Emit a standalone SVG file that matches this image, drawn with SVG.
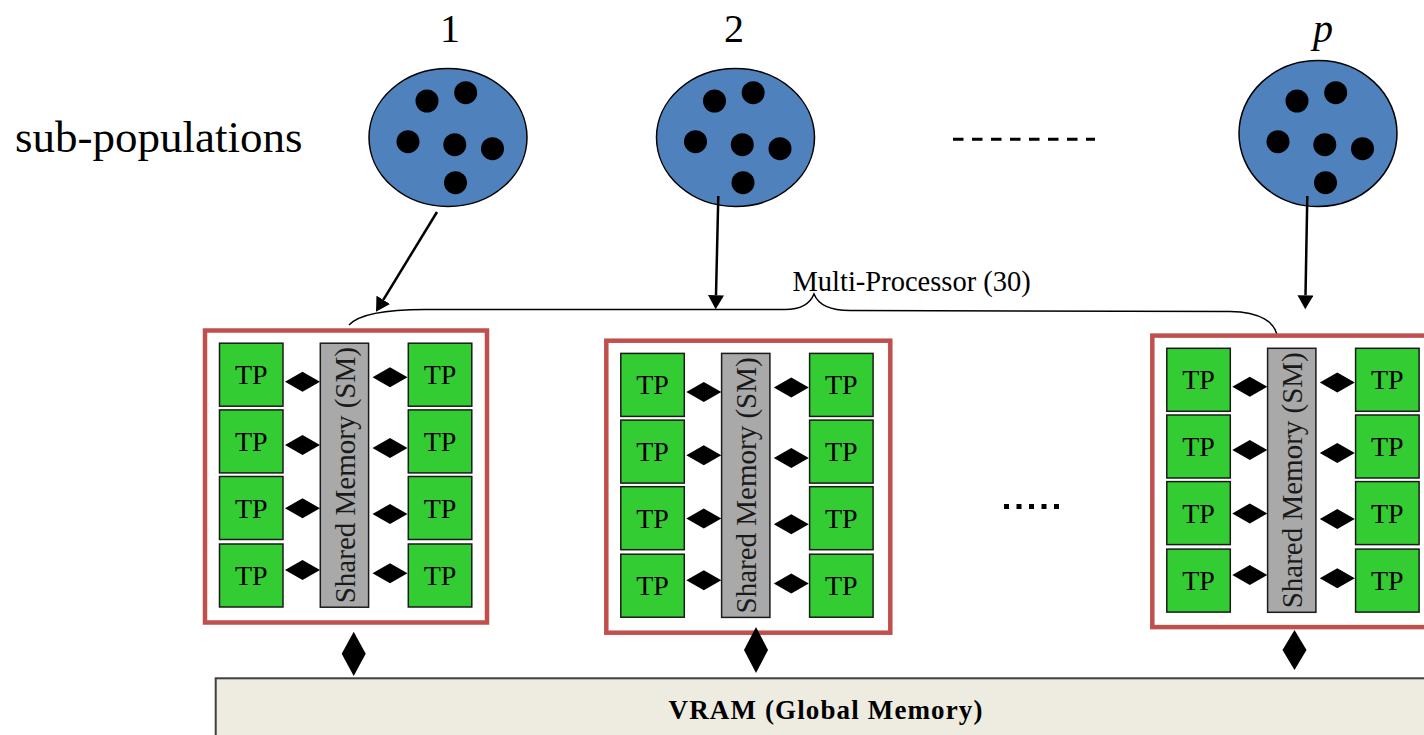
<svg xmlns="http://www.w3.org/2000/svg" width="1424" height="735" viewBox="0 0 1424 735">
<style>
.lbl{font-family:"Liberation Serif","Times New Roman",serif;fill:#000}
.pop{fill:#4F81BD;stroke:#000;stroke-width:1.5}
.dot{fill:#000}
.mp{fill:#fff;stroke:#C0504D;stroke-width:4.5}
.tp{fill:#33CC33;stroke:#1a1a1a;stroke-width:1.5}
.sm{fill:#A9A9A9;stroke:#1a1a1a;stroke-width:1.5}
.tpt{font-family:"Liberation Serif","Times New Roman",serif;font-size:28px;text-anchor:middle}
.smt{font-family:"Liberation Serif","Times New Roman",serif;font-size:29px;text-anchor:middle;fill:#1a1a1a}
.arr{stroke:#000;stroke-width:2.5;fill:none}
.dia{fill:#000}
</style>
<defs>
<marker id="ah" markerUnits="userSpaceOnUse" markerWidth="16" markerHeight="16" refX="0" refY="8" orient="auto">
<path d="M0,0 L14,8 L0,16 Z" fill="#000"/>
</marker>
<g id="dots">
<circle class="dot" cx="-21" cy="101" r="11.5"/>
<circle class="dot" cx="17.7" cy="92.7" r="11.5"/>
<circle class="dot" cx="-40" cy="141.7" r="11.5"/>
<circle class="dot" cx="6.8" cy="144.7" r="11.5"/>
<circle class="dot" cx="44.5" cy="148.7" r="11.5"/>
<circle class="dot" cx="7.5" cy="182.7" r="11.5"/>
</g>
</defs>
<rect width="1424" height="735" fill="#fff"/>

<g id="label-subpop"><text class="lbl" x="15" y="152" font-size="45">sub-populations</text></g>

<g id="pop1">
<text class="lbl" x="450" y="42" font-size="40" text-anchor="middle">1</text>
<ellipse class="pop" cx="448" cy="137.5" rx="79" ry="69"/>
<use href="#dots" x="448"/>
</g>
<g id="pop2">
<text class="lbl" x="734" y="42" font-size="40" text-anchor="middle">2</text>
<ellipse class="pop" cx="735.5" cy="137.5" rx="79" ry="69"/>
<use href="#dots" x="735.5"/>
</g>
<g id="popp">
<text class="lbl" x="1323" y="42" font-size="40" font-style="italic" text-anchor="middle">p</text>
<ellipse class="pop" cx="1318" cy="133.5" rx="79" ry="73"/>
<use href="#dots" x="1318"/>
</g>
<g id="ellipsis-top"><line x1="953" y1="139.3" x2="1095" y2="139.3" stroke="#000" stroke-width="3" stroke-dasharray="10.5 8.5"/></g>

<g id="brace">
<path d="M349,325 C360,313 390,309.5 425,309.5 L785,309.5 C800,309.5 810,304 814,294 C818,304 830,310.5 850,310.5 L1230,311.5 C1260,312 1276,322 1277.5,338" fill="none" stroke="#000" stroke-width="1.5"/>
<text class="lbl" x="792.5" y="291" font-size="28.5">Multi-Processor (30)</text>
</g>

<g id="mp1" transform="translate(205,330.5)">
<rect class="mp" x="0" y="0" width="282" height="292"/>
<rect class="sm" x="115.3" y="12.7" width="48.3" height="264"/>
<text class="smt" transform="translate(149.5,144.7) rotate(-90)">Shared Memory (SM)</text>
<rect class="tp" x="14.5" y="12.7" width="63.5" height="63"/><text class="tpt" x="46.3" y="53.7">TP</text>
<rect class="tp" x="14.5" y="79.4" width="63.5" height="63"/><text class="tpt" x="46.3" y="120.4">TP</text>
<rect class="tp" x="14.5" y="146" width="63.5" height="63"/><text class="tpt" x="46.3" y="187">TP</text>
<rect class="tp" x="14.5" y="213.5" width="63.5" height="63"/><text class="tpt" x="46.3" y="254.5">TP</text>
<rect class="tp" x="203.3" y="12.7" width="63.5" height="63"/><text class="tpt" x="235" y="53.7">TP</text>
<rect class="tp" x="203.3" y="79.4" width="63.5" height="63"/><text class="tpt" x="235" y="120.4">TP</text>
<rect class="tp" x="203.3" y="146" width="63.5" height="63"/><text class="tpt" x="235" y="187">TP</text>
<rect class="tp" x="203.3" y="213.5" width="63.5" height="63"/><text class="tpt" x="235" y="254.5">TP</text>
<path class="dia" d="M80,51.2 L97.5,41.2 L115,51.2 L97.5,61.2 Z M80,114.5 L97.5,104.5 L115,114.5 L97.5,124.5 Z M80,177.8 L97.5,167.8 L115,177.8 L97.5,187.8 Z M80,239.5 L97.5,229.5 L115,239.5 L97.5,249.5 Z"/>
<path class="dia" d="M167.5,46.8 L185,36.8 L202.5,46.8 L185,56.8 Z M167.5,117.4 L185,107.4 L202.5,117.4 L185,127.4 Z M167.5,183.5 L185,173.5 L202.5,183.5 L185,193.5 Z M167.5,242.7 L185,232.7 L202.5,242.7 L185,252.7 Z"/>
</g>

<g id="mp2" transform="translate(606.3,340.7)">
<rect class="mp" x="0" y="0" width="284" height="292"/>
<rect class="sm" x="115.3" y="12.7" width="48.3" height="264"/>
<text class="smt" transform="translate(149.5,144.7) rotate(-90)">Shared Memory (SM)</text>
<rect class="tp" x="14.5" y="12.7" width="63.5" height="63"/><text class="tpt" x="46.3" y="53.7">TP</text>
<rect class="tp" x="14.5" y="79.4" width="63.5" height="63"/><text class="tpt" x="46.3" y="120.4">TP</text>
<rect class="tp" x="14.5" y="146" width="63.5" height="63"/><text class="tpt" x="46.3" y="187">TP</text>
<rect class="tp" x="14.5" y="213.5" width="63.5" height="63"/><text class="tpt" x="46.3" y="254.5">TP</text>
<rect class="tp" x="203.3" y="12.7" width="63.5" height="63"/><text class="tpt" x="235" y="53.7">TP</text>
<rect class="tp" x="203.3" y="79.4" width="63.5" height="63"/><text class="tpt" x="235" y="120.4">TP</text>
<rect class="tp" x="203.3" y="146" width="63.5" height="63"/><text class="tpt" x="235" y="187">TP</text>
<rect class="tp" x="203.3" y="213.5" width="63.5" height="63"/><text class="tpt" x="235" y="254.5">TP</text>
<path class="dia" d="M80,51.2 L97.5,41.2 L115,51.2 L97.5,61.2 Z M80,114.5 L97.5,104.5 L115,114.5 L97.5,124.5 Z M80,177.8 L97.5,167.8 L115,177.8 L97.5,187.8 Z M80,239.5 L97.5,229.5 L115,239.5 L97.5,249.5 Z"/>
<path class="dia" d="M167.5,46.8 L185,36.8 L202.5,46.8 L185,56.8 Z M167.5,117.4 L185,107.4 L202.5,117.4 L185,127.4 Z M167.5,183.5 L185,173.5 L202.5,183.5 L185,193.5 Z M167.5,242.7 L185,232.7 L202.5,242.7 L185,252.7 Z"/>
</g>

<g id="ellipsis-mid"><line x1="1004" y1="506.5" x2="1062" y2="506.5" stroke="#000" stroke-width="5" stroke-dasharray="5 7.5"/></g>

<g id="mp3" transform="translate(1152.3,335.6)">
<rect class="mp" x="0" y="0" width="290" height="291.5"/>
<rect class="sm" x="115.3" y="12.7" width="48.3" height="264"/>
<text class="smt" transform="translate(149.5,144.7) rotate(-90)">Shared Memory (SM)</text>
<rect class="tp" x="14.5" y="12.7" width="63.5" height="63"/><text class="tpt" x="46.3" y="53.7">TP</text>
<rect class="tp" x="14.5" y="79.4" width="63.5" height="63"/><text class="tpt" x="46.3" y="120.4">TP</text>
<rect class="tp" x="14.5" y="146" width="63.5" height="63"/><text class="tpt" x="46.3" y="187">TP</text>
<rect class="tp" x="14.5" y="213.5" width="63.5" height="63"/><text class="tpt" x="46.3" y="254.5">TP</text>
<rect class="tp" x="203.3" y="12.7" width="63.5" height="63"/><text class="tpt" x="235" y="53.7">TP</text>
<rect class="tp" x="203.3" y="79.4" width="63.5" height="63"/><text class="tpt" x="235" y="120.4">TP</text>
<rect class="tp" x="203.3" y="146" width="63.5" height="63"/><text class="tpt" x="235" y="187">TP</text>
<rect class="tp" x="203.3" y="213.5" width="63.5" height="63"/><text class="tpt" x="235" y="254.5">TP</text>
<path class="dia" d="M80,51.2 L97.5,41.2 L115,51.2 L97.5,61.2 Z M80,114.5 L97.5,104.5 L115,114.5 L97.5,124.5 Z M80,177.8 L97.5,167.8 L115,177.8 L97.5,187.8 Z M80,239.5 L97.5,229.5 L115,239.5 L97.5,249.5 Z"/>
<path class="dia" d="M167.5,46.8 L185,36.8 L202.5,46.8 L185,56.8 Z M167.5,117.4 L185,107.4 L202.5,117.4 L185,127.4 Z M167.5,183.5 L185,173.5 L202.5,183.5 L185,193.5 Z M167.5,242.7 L185,232.7 L202.5,242.7 L185,252.7 Z"/>
</g>

<g id="vram">
<rect x="215.7" y="678.3" width="1300" height="100" fill="#EEECE1" stroke="#3f3f3f" stroke-width="2"/>
<text class="lbl" x="825.5" y="719" font-size="27" font-weight="bold" text-anchor="middle" textLength="314" lengthAdjust="spacing">VRAM (Global Memory)</text>
</g>

<g id="connectors">
<line class="arr" x1="437" y1="212" x2="383.3" y2="299.8" marker-end="url(#ah)"/>
<line class="arr" x1="718.3" y1="196" x2="716" y2="295.3" marker-end="url(#ah)"/>
<line class="arr" x1="1307.3" y1="196" x2="1305.5" y2="295.3" marker-end="url(#ah)"/>
<path class="dia" d="M353.7,631.7 L365.7,653.8 L353.7,676 L341.7,653.8 Z"/>
<path class="dia" d="M756,627 L768,650 L756,673 L744,650 Z"/>
<path class="dia" d="M1294.5,630 L1306.5,650 L1294.5,670 L1282.5,650 Z"/>
</g>
</svg>
